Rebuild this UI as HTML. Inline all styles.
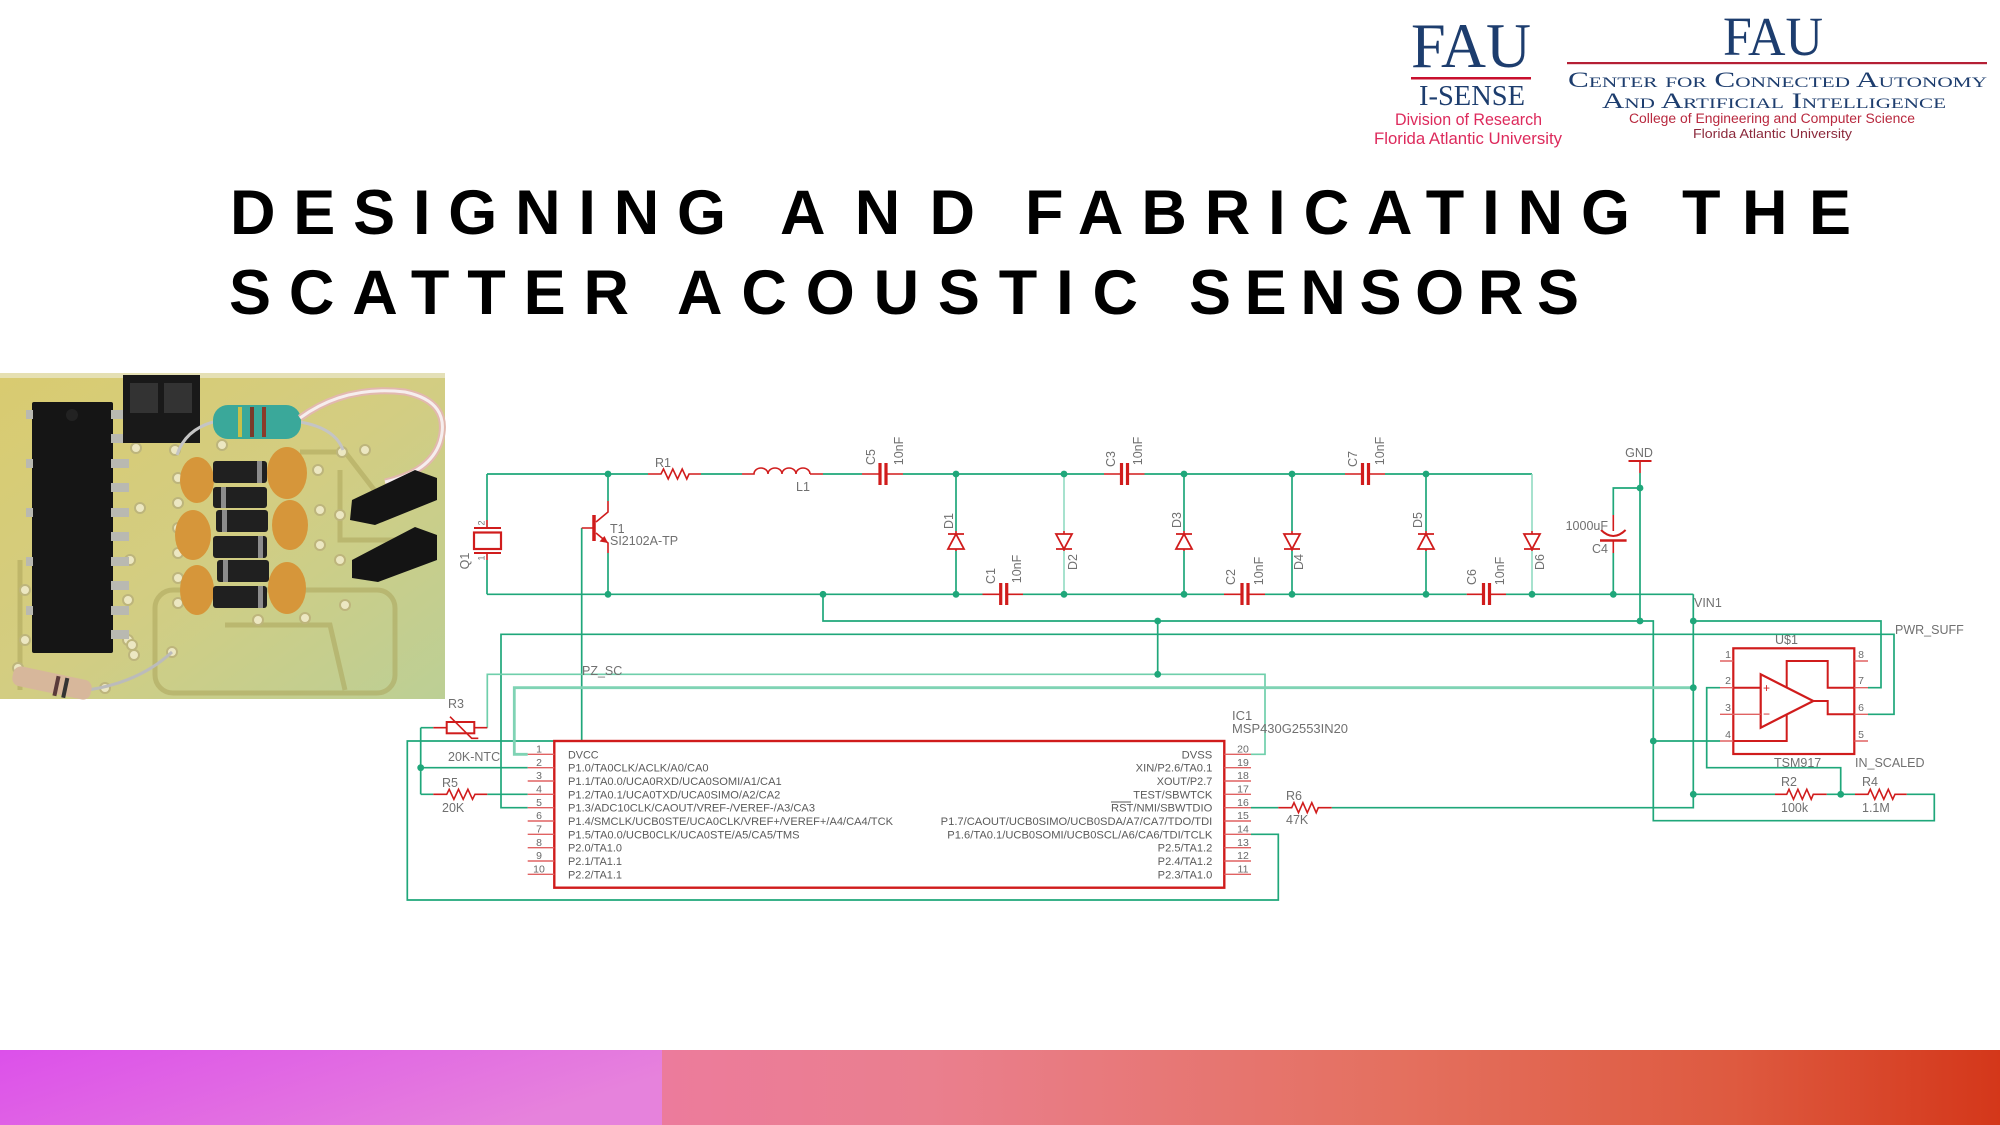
<!DOCTYPE html>
<html><head><meta charset="utf-8"><style>
html,body{margin:0;padding:0;background:#fff;}
body{width:2000px;height:1125px;overflow:hidden;position:relative;}
svg{position:absolute;left:0;top:0;}
.t{font-family:"Liberation Sans",sans-serif;font-weight:bold;fill:#000;}
.lb{font-family:"Liberation Sans",sans-serif;font-size:12.5px;fill:#707070;}
.pl{font-family:"Liberation Sans",sans-serif;font-size:11px;fill:#5a5a5a;}
.pn{font-family:"Liberation Sans",sans-serif;font-size:10.5px;fill:#6a6a6a;text-anchor:middle;}
.ser{font-family:"Liberation Serif",serif;fill:#1d3d6e;}
.rot{text-anchor:middle;dominant-baseline:central;}
</style></head><body>
<svg width="2000" height="1125" viewBox="0 0 2000 1125" xmlns="http://www.w3.org/2000/svg">
<defs>
<linearGradient id="pg" x1="0" y1="0" x2="1" y2="1">
<stop offset="0" stop-color="#d9cb70"/><stop offset="0.5" stop-color="#d3cd82"/><stop offset="1" stop-color="#bccf95"/>
</linearGradient>
<linearGradient id="bl" x1="0" y1="0" x2="1" y2="0.35">
<stop offset="0" stop-color="#dc50ea"/><stop offset="1" stop-color="#e682dc"/>
</linearGradient>
<linearGradient id="br" x1="0" y1="0" x2="1" y2="0">
<stop offset="0" stop-color="#ec7b9c"/><stop offset="0.2" stop-color="#ea7f8e"/><stop offset="0.55" stop-color="#e4705f"/><stop offset="0.8" stop-color="#de5a40"/><stop offset="1" stop-color="#d4371a"/>
</linearGradient>
</defs>

<!-- LOGOS -->
<text class="ser" x="1411" y="67" font-size="63" textLength="120" lengthAdjust="spacingAndGlyphs">FAU</text>
<rect x="1411" y="77" width="120" height="2.5" fill="#c8102e"/>
<text class="ser" x="1419" y="105" font-size="29" textLength="106" lengthAdjust="spacingAndGlyphs">I-SENSE</text>
<text x="1395" y="125" font-family="Liberation Sans,sans-serif" font-size="16.5" fill="#dd2a5c" textLength="147" lengthAdjust="spacingAndGlyphs">Division of Research</text>
<text x="1374" y="144" font-family="Liberation Sans,sans-serif" font-size="16.5" fill="#dd2a5c" textLength="188" lengthAdjust="spacingAndGlyphs">Florida Atlantic University</text>

<text class="ser" x="1723" y="55" font-size="55" textLength="100" lengthAdjust="spacingAndGlyphs">FAU</text>
<rect x="1567" y="62" width="420" height="2.2" fill="#b51f35"/>
<text class="ser" x="1568" y="87" font-size="22" style="font-variant:small-caps" textLength="419" lengthAdjust="spacingAndGlyphs">Center for Connected Autonomy</text>
<text class="ser" x="1602" y="108" font-size="22" style="font-variant:small-caps" textLength="344" lengthAdjust="spacingAndGlyphs">And Artificial Intelligence</text>
<text x="1629" y="123" font-family="Liberation Sans,sans-serif" font-size="13.5" fill="#b8283e" textLength="286" lengthAdjust="spacingAndGlyphs">College of Engineering and Computer Science</text>
<text x="1693" y="138" font-family="Liberation Sans,sans-serif" font-size="13" fill="#8c2a3c" textLength="159" lengthAdjust="spacingAndGlyphs">Florida Atlantic University</text>

<!-- TITLE -->
<g class="t" font-size="63">
<text x="230" y="234" textLength="496" lengthAdjust="spacing">DESIGNING</text>
<text x="780" y="234" textLength="195" lengthAdjust="spacing">AND</text>
<text x="1025" y="234" textLength="605" lengthAdjust="spacing">FABRICATING</text>
<text x="1682" y="234" textLength="169" lengthAdjust="spacing">THE</text>
<text x="229" y="314" textLength="400" lengthAdjust="spacing">SCATTER</text>
<text x="677" y="314" textLength="461" lengthAdjust="spacing">ACOUSTIC</text>
<text x="1189" y="314" textLength="390" lengthAdjust="spacing">SENSORS</text>
</g>

<!-- PHOTO -->
<g>
<rect x="0" y="373" width="445" height="326" fill="url(#pg)"/>
<rect x="0" y="373" width="445" height="5" fill="#ebe8cf" opacity="0.7"/>
<g stroke="#aaa258" stroke-width="5" fill="none" opacity="0.5">
<rect x="155" y="590" width="240" height="103" rx="18"/>
<path d="M20 560 V690"/>
<path d="M300 452 H345 L382 500"/>
<path d="M225 625 H330 L345 690"/>
<path d="M60 560 Q60 545 80 545"/>
<path d="M340 470 V540 H400"/>
</g>
<g fill="#ece7c2" stroke="#bdb57c" stroke-width="2">
<circle cx="136" cy="448" r="5"/><circle cx="140" cy="508" r="5"/><circle cx="130" cy="560" r="5"/><circle cx="128" cy="600" r="5"/><circle cx="128" cy="640" r="5"/><circle cx="134" cy="655" r="5"/>
<circle cx="25" cy="590" r="5"/><circle cx="25" cy="640" r="5"/><circle cx="18" cy="668" r="5"/>
<circle cx="175" cy="450" r="5"/><circle cx="178" cy="478" r="5"/><circle cx="178" cy="503" r="5"/><circle cx="178" cy="528" r="5"/><circle cx="178" cy="553" r="5"/><circle cx="178" cy="578" r="5"/><circle cx="178" cy="603" r="5"/>
<circle cx="222" cy="445" r="5"/><circle cx="318" cy="470" r="5"/><circle cx="320" cy="510" r="5"/><circle cx="320" cy="545" r="5"/>
<circle cx="342" cy="452" r="5"/><circle cx="365" cy="450" r="5"/><circle cx="340" cy="515" r="5"/><circle cx="340" cy="560" r="5"/><circle cx="345" cy="605" r="5"/>
<circle cx="258" cy="620" r="5"/><circle cx="305" cy="618" r="5"/><circle cx="132" cy="645" r="5"/><circle cx="172" cy="652" r="5"/><circle cx="105" cy="688" r="5"/>
</g>
<rect x="32" y="402" width="81" height="251" rx="2" fill="#151515"/>
<circle cx="72" cy="415" r="6" fill="#222"/>
<g fill="#b9b9b1">
<rect x="111" y="410" width="18" height="9"/><rect x="111" y="434" width="18" height="9"/><rect x="111" y="459" width="18" height="9"/><rect x="111" y="483" width="18" height="9"/><rect x="111" y="508" width="18" height="9"/><rect x="111" y="532" width="18" height="9"/><rect x="111" y="557" width="18" height="9"/><rect x="111" y="581" width="18" height="9"/><rect x="111" y="606" width="18" height="9"/><rect x="111" y="630" width="18" height="9"/>
<rect x="26" y="410" width="7" height="9"/><rect x="26" y="459" width="7" height="9"/><rect x="26" y="508" width="7" height="9"/><rect x="26" y="557" width="7" height="9"/><rect x="26" y="606" width="7" height="9"/>
</g>
<rect x="123" y="375" width="77" height="68" fill="#191919"/>
<rect x="130" y="383" width="28" height="30" fill="#333"/><rect x="164" y="383" width="28" height="30" fill="#333"/>
<path d="M213 422 Q185 430 177 455" stroke="#c4c4c4" stroke-width="3" fill="none"/>
<path d="M300 422 Q335 428 343 450" stroke="#c4c4c4" stroke-width="3" fill="none"/>
<rect x="213" y="405" width="88" height="34" rx="15" fill="#3aa89a"/>
<rect x="238" y="407" width="4" height="30" fill="#c8c04a"/><rect x="250" y="407" width="4" height="30" fill="#7a3a2a"/><rect x="262" y="407" width="4" height="30" fill="#8a3a2a"/>
<path d="M300 418 Q345 385 405 392 Q452 402 440 442 Q430 472 385 482" stroke="#e2b8ae" stroke-width="7" fill="none"/>
<path d="M300 418 Q345 385 405 392 Q452 402 440 442 Q430 472 385 482" stroke="#f6eeee" stroke-width="3" fill="none"/>
<g fill="#d6963a">
<ellipse cx="197" cy="480" rx="17" ry="23"/><ellipse cx="193" cy="535" rx="18" ry="25"/><ellipse cx="197" cy="590" rx="17" ry="25"/>
<ellipse cx="287" cy="473" rx="20" ry="26"/><ellipse cx="290" cy="525" rx="18" ry="25"/><ellipse cx="287" cy="588" rx="19" ry="26"/>
</g>
<g fill="#202020">
<rect x="213" y="461" width="54" height="22" rx="3"/><rect x="213" y="487" width="54" height="21" rx="3"/><rect x="216" y="510" width="52" height="22" rx="3"/><rect x="213" y="536" width="54" height="22" rx="3"/><rect x="217" y="560" width="52" height="22" rx="3"/><rect x="213" y="586" width="54" height="22" rx="3"/>
</g>
<g fill="#8c8c8c"><rect x="257" y="461" width="5" height="22"/><rect x="221" y="487" width="5" height="21"/><rect x="222" y="510" width="5" height="22"/><rect x="258" y="536" width="5" height="22"/><rect x="223" y="560" width="5" height="22"/><rect x="258" y="586" width="5" height="22"/></g>
<polygon points="352,500 415,470 437,478 437,500 375,525 350,520" fill="#141414"/>
<polygon points="352,560 415,527 437,535 437,560 378,582 352,578" fill="#141414"/>
<path d="M88 690 Q140 682 172 652" stroke="#bbb" stroke-width="3" fill="none"/>
<rect x="12" y="673" width="80" height="20" rx="8" fill="#d7b79b" transform="rotate(12 52 683)"/>
<rect x="55" y="675" width="4" height="20" fill="#5a3a3a" transform="rotate(12 52 683)"/>
<rect x="64" y="675" width="4" height="20" fill="#333" transform="rotate(12 52 683)"/>
</g>

<!-- SCHEMATIC WIRES -->
<g stroke="#1fa77a" stroke-width="1.7" fill="none">
<path d="M487 474 H648 M701 474 H742 M823 474 H862 M903 474 H1104 M1144.5 474 H1345 M1385 474 H1532"/>
<path d="M487 474 V520 M487 560 V594.3"/>
<path d="M487 594.3 H982.5 M1023 594.3 H1224 M1265 594.3 H1466.7 M1506 594.3 H1693.3"/>
<path d="M608 474 V501 M608 553 V594.3"/>
<path d="M581.7 528 V741 H407.3 V900 H1278.3 V834.3 H1251"/>
<path d="M956 474 V531 M956 551 V594.3 M1184 474 V531 M1184 551 V594.3 M1292 474 V531 M1292 551 V594.3 M1426 474 V531 M1426 551 V594.3"/>
<path d="M1640 488 H1613.3 V515 M1613.3 553 V594.3"/>
<path d="M1640 473 V621"/>
<path d="M823 594.3 V621 H1653.3 V820.7 H1934.3 V794.3 H1906.7"/>
<path d="M1157.7 621 V674.3"/>
<path d="M527.7 807.7 H501 V634.3 H1894 V714.3 H1868"/>
<path d="M1693.3 594.3 V807.7 H1331.7 M1251 807.7 H1278.3"/>
<path d="M1693.3 621 H1881 V687.7 H1868"/>
<path d="M1720 687.7 H1706.7 V767.7 H1840.7 V794.3"/>
<path d="M1653.3 741 H1720"/>
<path d="M1693.3 794.3 H1775 M1826.7 794.3 H1855"/>
<path d="M420.7 727.7 V794.3 M420.7 727.7 H433.3 M420.7 767.7 H527.7 M420.7 794.3 H433.3 M487.3 794.3 H527.7"/>
</g>
<g stroke="#8ad9bd" stroke-width="1.5" fill="none">
<path d="M1064 474 V531 M1064 551 V594.3 M1532 474 V531 M1532 551 V594.3"/>
</g>
<g stroke="#6fcfab" stroke-width="1.7" fill="none">
<path d="M487.3 727.7 V674.3 H1265 V754.3 H1251"/>
</g>
<g stroke="#7fd3b4" stroke-width="2.8" fill="none">
<path d="M527.7 754.3 H514.3 V687.7 H1693.3"/>
</g>

<!-- NODES -->
<g fill="#1fa77a">
<circle cx="608" cy="474" r="3.4"/><circle cx="956" cy="474" r="3.4"/><circle cx="1064" cy="474" r="3.4"/><circle cx="1184" cy="474" r="3.4"/><circle cx="1292" cy="474" r="3.4"/><circle cx="1426" cy="474" r="3.4"/>
<circle cx="608" cy="594.3" r="3.4"/><circle cx="823" cy="594.3" r="3.4"/><circle cx="956" cy="594.3" r="3.4"/><circle cx="1064" cy="594.3" r="3.4"/><circle cx="1184" cy="594.3" r="3.4"/><circle cx="1292" cy="594.3" r="3.4"/><circle cx="1426" cy="594.3" r="3.4"/><circle cx="1532" cy="594.3" r="3.4"/><circle cx="1613.3" cy="594.3" r="3.4"/>
<circle cx="1640" cy="488" r="3.4"/><circle cx="1640" cy="621" r="3.4"/><circle cx="1157.7" cy="621" r="3.4"/><circle cx="1157.7" cy="674.3" r="3.4"/>
<circle cx="1693.3" cy="621" r="3.4"/><circle cx="1693.3" cy="687.7" r="3.4"/><circle cx="1693.3" cy="794.3" r="3.4"/><circle cx="1653.3" cy="741" r="3.4"/><circle cx="1840.7" cy="794.3" r="3.4"/><circle cx="420.7" cy="767.7" r="3.4"/>
</g>

<!-- COMPONENTS (red) -->
<g stroke="#d01c1c" stroke-width="1.6" fill="none">
<path d="M648 474 H661 L663.5 469 L668.2 479 L672.8 469 L677.5 479 L682.2 469 L686.8 479 L689 474 H701"/>
<path d="M742 474 H754 a7 6 0 0 1 14 0 a7 6 0 0 1 14 0 a7 6 0 0 1 14 0 a7 6 0 0 1 14 0 M810 474 H823"/>
<path d="M862 474 H879 M887 474 H903 M1104 474 H1120 M1129 474 H1144.5 M1345 474 H1361 M1369 474 H1385"/>
<path d="M880 463 V485 M886 463 V485 M1121.5 463 V485 M1127.5 463 V485 M1362.5 463 V485 M1368.5 463 V485" stroke-width="3.2"/>
<path d="M982.5 594.3 H1000 M1007 594.3 H1023 M1224 594.3 H1241 M1249 594.3 H1265 M1466.7 594.3 H1483 M1490 594.3 H1506"/>
<path d="M1000.7 583 V605 M1006.7 583 V605 M1242 583 V605 M1248 583 V605 M1483.5 583 V605 M1489.5 583 V605" stroke-width="3.2"/>
<path d="M487 520 V528 M487 553 V560"/>
<path d="M474 528 H501 M474 553 H501" stroke-width="2"/>
<rect x="474" y="532.5" width="27" height="16.5" stroke-width="2.2"/>
<path d="M608 501 V512 L596 522 M581.7 528 H594 M596 533 L608 543 V553"/>
<path d="M594 515 V541" stroke-width="3.5"/>
<path d="M948 549 H964 L956 534 Z M948 534 H964" stroke-width="1.8"/>
<path d="M1176 549 H1192 L1184 534 Z M1176 534 H1192" stroke-width="1.8"/>
<path d="M1418 549 H1434 L1426 534 Z M1418 534 H1434" stroke-width="1.8"/>
<path d="M1056 534 H1072 L1064 549 Z M1056 549 H1072" stroke-width="1.8"/>
<path d="M1284 534 H1300 L1292 549 Z M1284 549 H1300" stroke-width="1.8"/>
<path d="M1524 534 H1540 L1532 549 Z M1524 549 H1540" stroke-width="1.8"/>
<path d="M956 531 V534 M956 549 V551 M1184 531 V534 M1184 549 V551 M1426 531 V534 M1426 549 V551 M1064 531 V534 M1064 549 V551 M1292 531 V534 M1292 549 V551 M1532 531 V534 M1532 549 V551"/>
<path d="M1613.3 515 V531 M1613.3 540 V553"/>
<path d="M1601 530 Q1613.3 542 1625.6 530" stroke-width="2"/>
<path d="M1600 540.5 H1626.6" stroke-width="2.6"/>
<path d="M1640 461 V473"/>
<path d="M1628.5 461 H1651.5" stroke-width="2"/>
<path d="M433.3 727.7 H446.7 M474.3 727.7 H487.3"/>
<rect x="446.7" y="722" width="27.6" height="11.3" stroke-width="2"/>
<path d="M450 716.7 L471.7 738.3 H478.3"/>
<path d="M433.3 794.3 H446.7 L449.2 789.3 L453.9 799.3 L458.5 789.3 L463.2 799.3 L467.9 789.3 L472.5 799.3 L475 794.3 H487.3"/>
<path d="M1278.3 807.7 H1291.7 L1294 802.7 L1298.5 812.7 L1302.9 802.7 L1307.3 812.7 L1311.8 802.7 L1316.2 812.7 L1318.3 807.7 H1331.7"/>
<path d="M1775 794.3 H1786.7 L1789 789.3 L1793.5 799.3 L1797.9 789.3 L1802.3 799.3 L1806.8 789.3 L1811.2 799.3 L1813.3 794.3 H1826.7"/>
<path d="M1855 794.3 H1868 L1870.3 789.3 L1874.8 799.3 L1879.3 789.3 L1883.8 799.3 L1888.3 789.3 L1892.7 799.3 L1895 794.3 H1906.7"/>
<rect x="554.3" y="741" width="670" height="146.7" stroke-width="2.4"/>
<rect x="1733.3" y="648.3" width="121" height="105.7" stroke-width="2.2"/>
<path d="M1760.7 674.3 V727.7 L1813.3 701 Z" stroke-width="2.2"/>
<path d="M1733.3 687.7 H1760.7 M1813.3 701 H1827.7 V714.3 H1854.3 M1786.7 687.5 V661 H1827.7 V687.7 H1854.3 M1786.7 714.5 V741 H1733.3" stroke-width="2"/>
</g>
<polygon points="608,543 599.5,541.5 604.5,536" fill="#d01c1c"/>
<g stroke="#e06262" stroke-width="1.4">
<path d="M527.7 754.3 H554.3 M527.7 767.7 H554.3 M527.7 781 H554.3 M527.7 794.3 H554.3 M527.7 807.7 H554.3 M527.7 821 H554.3 M527.7 834.3 H554.3 M527.7 847.7 H554.3 M527.7 861 H554.3 M527.7 874.3 H554.3"/>
<path d="M1224.3 754.3 H1251 M1224.3 767.7 H1251 M1224.3 781 H1251 M1224.3 794.3 H1251 M1224.3 807.7 H1251 M1224.3 821 H1251 M1224.3 834.3 H1251 M1224.3 847.7 H1251 M1224.3 861 H1251 M1224.3 874.3 H1251"/>
<path d="M1720 661 H1733.3 M1720 687.7 H1733.3 M1720 714.3 H1760.7 M1720 741 H1733.3 M1854.3 661 H1868 M1854.3 687.7 H1868 M1854.3 714.3 H1868 M1854.3 741 H1868"/>
</g>
<text x="1763" y="692" font-family="Liberation Sans,sans-serif" font-size="12" fill="#d01c1c">+</text>
<text x="1763" y="718" font-family="Liberation Sans,sans-serif" font-size="12" fill="#d01c1c">−</text>

<!-- LABELS -->
<g class="lb">
<text class="rot" transform="rotate(-90 465 561)" x="465" y="561">Q1</text>
<text class="rot" transform="rotate(-90 481.5 523)" x="481.5" y="523" font-size="9">2</text>
<text class="rot" transform="rotate(-90 481.5 558)" x="481.5" y="558" font-size="9">1</text>
<text x="610" y="533">T1</text>
<text x="610" y="545">SI2102A-TP</text>
<text x="655" y="467">R1</text>
<text x="796" y="491">L1</text>
<text class="rot" transform="rotate(-90 871 457)" x="871" y="457">C5</text>
<text class="rot" transform="rotate(-90 899 451)" x="899" y="451">10nF</text>
<text class="rot" transform="rotate(-90 1111 459)" x="1111" y="459">C3</text>
<text class="rot" transform="rotate(-90 1138 451)" x="1138" y="451">10nF</text>
<text class="rot" transform="rotate(-90 1353 459)" x="1353" y="459">C7</text>
<text class="rot" transform="rotate(-90 1380 451)" x="1380" y="451">10nF</text>
<text class="rot" transform="rotate(-90 949 521)" x="949" y="521">D1</text>
<text class="rot" transform="rotate(-90 1177 520)" x="1177" y="520">D3</text>
<text class="rot" transform="rotate(-90 1418 520)" x="1418" y="520">D5</text>
<text class="rot" transform="rotate(-90 1073 562)" x="1073" y="562">D2</text>
<text class="rot" transform="rotate(-90 1299 562)" x="1299" y="562">D4</text>
<text class="rot" transform="rotate(-90 1540 562)" x="1540" y="562">D6</text>
<text class="rot" transform="rotate(-90 991 576)" x="991" y="576">C1</text>
<text class="rot" transform="rotate(-90 1017 569)" x="1017" y="569">10nF</text>
<text class="rot" transform="rotate(-90 1231 577)" x="1231" y="577">C2</text>
<text class="rot" transform="rotate(-90 1259 571)" x="1259" y="571">10nF</text>
<text class="rot" transform="rotate(-90 1472 577)" x="1472" y="577">C6</text>
<text class="rot" transform="rotate(-90 1500 571)" x="1500" y="571">10nF</text>
<text x="1608" y="530" text-anchor="end">1000uF</text>
<text x="1608" y="553" text-anchor="end">C4</text>
<text x="1639" y="457" text-anchor="middle">GND</text>
<text x="1694" y="607">VIN1</text>
<text x="1895" y="634">PWR_SUFF</text>
<text x="1775" y="644">U$1</text>
<text x="1774" y="767">TSM917</text>
<text x="1855" y="767">IN_SCALED</text>
<text x="1781" y="786">R2</text>
<text x="1781" y="812">100k</text>
<text x="1862" y="786">R4</text>
<text x="1862" y="812">1.1M</text>
<text x="582" y="675">PZ_SC</text>
<text x="448" y="708">R3</text>
<text x="448" y="761">20K-NTC</text>
<text x="442" y="787">R5</text>
<text x="442" y="812">20K</text>
<text x="1286" y="800">R6</text>
<text x="1286" y="824">47K</text>
<text x="1232" y="720" font-size="13">IC1</text>
<text x="1232" y="733" textLength="116" lengthAdjust="spacingAndGlyphs">MSP430G2553IN20</text>
</g>
<g class="pn">
<text x="1728" y="658">1</text><text x="1728" y="684">2</text><text x="1728" y="711">3</text><text x="1728" y="738">4</text>
<text x="1861" y="658">8</text><text x="1861" y="684">7</text><text x="1861" y="711">6</text><text x="1861" y="738">5</text>
<text x="539" y="752.5">1</text><text x="539" y="766">2</text><text x="539" y="779">3</text><text x="539" y="792.5">4</text><text x="539" y="806">5</text><text x="539" y="819">6</text><text x="539" y="832.5">7</text><text x="539" y="846">8</text><text x="539" y="859">9</text><text x="539" y="872.5">10</text>
<text x="1243" y="752.5">20</text><text x="1243" y="766">19</text><text x="1243" y="779">18</text><text x="1243" y="792.5">17</text><text x="1243" y="806">16</text><text x="1243" y="819">15</text><text x="1243" y="832.5">14</text><text x="1243" y="846">13</text><text x="1243" y="859">12</text><text x="1243" y="872.5">11</text>
</g>
<g class="pl">
<text x="568" y="758.3" textLength="30.6" lengthAdjust="spacingAndGlyphs">DVCC</text>
<text x="568" y="771.7" textLength="140.6" lengthAdjust="spacingAndGlyphs">P1.0/TA0CLK/ACLK/A0/CA0</text>
<text x="568" y="785" textLength="213.7" lengthAdjust="spacingAndGlyphs">P1.1/TA0.0/UCA0RXD/UCA0SOMI/A1/CA1</text>
<text x="568" y="798.3" textLength="212.3" lengthAdjust="spacingAndGlyphs">P1.2/TA0.1/UCA0TXD/UCA0SIMO/A2/CA2</text>
<text x="568" y="811.7" textLength="247" lengthAdjust="spacingAndGlyphs">P1.3/ADC10CLK/CAOUT/VREF-/VEREF-/A3/CA3</text>
<text x="568" y="825" textLength="325" lengthAdjust="spacingAndGlyphs">P1.4/SMCLK/UCB0STE/UCA0CLK/VREF+/VEREF+/A4/CA4/TCK</text>
<text x="568" y="838.3" textLength="231.6" lengthAdjust="spacingAndGlyphs">P1.5/TA0.0/UCB0CLK/UCA0STE/A5/CA5/TMS</text>
<text x="568" y="851.7" textLength="54" lengthAdjust="spacingAndGlyphs">P2.0/TA1.0</text>
<text x="568" y="865" textLength="54" lengthAdjust="spacingAndGlyphs">P2.1/TA1.1</text>
<text x="568" y="878.3" textLength="54" lengthAdjust="spacingAndGlyphs">P2.2/TA1.1</text>
<text x="1181.7" y="758.3" textLength="30.6" lengthAdjust="spacingAndGlyphs">DVSS</text>
<text x="1135.7" y="771.7" textLength="76.6" lengthAdjust="spacingAndGlyphs">XIN/P2.6/TA0.1</text>
<text x="1156.7" y="785" textLength="55.6" lengthAdjust="spacingAndGlyphs">XOUT/P2.7</text>
<text x="1133.3" y="798.3" textLength="79" lengthAdjust="spacingAndGlyphs">TEST/SBWTCK</text>
<text x="1111" y="811.7" textLength="101.3" lengthAdjust="spacingAndGlyphs">RST/NMI/SBWTDIO</text>
<text x="940.7" y="825" textLength="271.6" lengthAdjust="spacingAndGlyphs">P1.7/CAOUT/UCB0SIMO/UCB0SDA/A7/CA7/TDO/TDI</text>
<text x="947.3" y="838.3" textLength="265" lengthAdjust="spacingAndGlyphs">P1.6/TA0.1/UCB0SOMI/UCB0SCL/A6/CA6/TDI/TCLK</text>
<text x="1157.7" y="851.7" textLength="54.6" lengthAdjust="spacingAndGlyphs">P2.5/TA1.2</text>
<text x="1157.7" y="865" textLength="54.6" lengthAdjust="spacingAndGlyphs">P2.4/TA1.2</text>
<text x="1157.7" y="878.3" textLength="54.6" lengthAdjust="spacingAndGlyphs">P2.3/TA1.0</text>
</g>
<path d="M1111 802 H1131" stroke="#5a5a5a" stroke-width="0.9"/>

<!-- BOTTOM BAR -->
<rect x="0" y="1050" width="662" height="75" fill="url(#bl)"/>
<rect x="662" y="1050" width="1338" height="75" fill="url(#br)"/>
</svg>
</body></html>
